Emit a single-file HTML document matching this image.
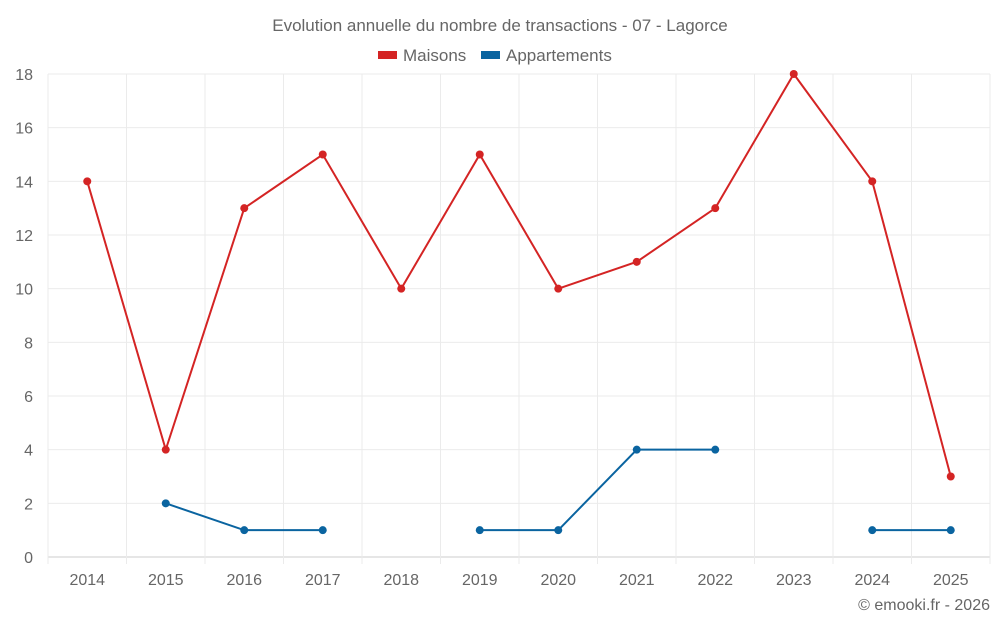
<!DOCTYPE html>
<html><head><meta charset="utf-8"><style>
body{margin:0;background:#fff;font-family:"Liberation Sans",sans-serif;}
svg text{font-family:"Liberation Sans",sans-serif;fill:#666;}
</style></head><body>
<svg id="c" width="1000" height="625">
<text x="500" y="31" text-anchor="middle" font-size="17">Evolution annuelle du nombre de transactions - 07 - Lagorce</text>
<g>
<g><rect x="378" y="51" width="19" height="8" fill="#d42424"/><text x="403" y="61" font-size="17">Maisons</text></g>
<g><rect x="481" y="51" width="19" height="8" fill="#0a64a0"/><text x="506" y="61" font-size="17">Appartements</text></g>
</g>
<g id="grid"></g><g id="axes"></g><g id="series"></g>
<text x="990" y="610" text-anchor="end" font-size="16">© emooki.fr - 2026</text>
</svg>
<script>
const categories=["2014","2015","2016","2017","2018","2019","2020","2021","2022","2023","2024","2025"];
const maisons=[14,4,13,15,10,15,10,11,13,18,14,3];
const appartements=[null,2,1,1,null,1,1,4,4,null,1,1];
const yTicks=[0,2,4,6,8,10,12,14,16,18];
const NS="http://www.w3.org/2000/svg";
const L=48,R=990,T=74,B=557,yMax=18;
const bw=(R-L)/categories.length;
const xs=i=>L+bw*(i+0.5);
const ys=v=>B-(v/yMax)*(B-T);
function mk(t,a,p){const e=document.createElementNS(NS,t);for(const k in a)e.setAttribute(k,a[k]);p.appendChild(e);return e;}
const g=document.getElementById('grid'),ax=document.getElementById('axes'),s=document.getElementById('series');
yTicks.forEach(v=>{
 const l=mk('line',{x1:L,x2:R,y1:ys(v),y2:ys(v),stroke:v===0?'#ccc':'#ebebeb'},g);
 
 
 const t=mk('text',{x:33,y:ys(v)+6,'text-anchor':'end','font-size':16},ax);t.textContent=v;
 
 
});
for(let i=0;i<=categories.length;i++){
 const x=L+bw*i;
 const l=mk('line',{x1:x,x2:x,y1:T,y2:B+7,stroke:'#ebebeb'},g);
 
 
}
categories.forEach((c,i)=>{
 const t=mk('text',{x:xs(i),y:585,'text-anchor':'middle','font-size':16},ax);t.textContent=c;
 
 
});
function draw(data,color,name){
 let d='',pen=false;
 data.forEach((v,i)=>{if(v==null){pen=false;return;}d+=(pen?'L':'M')+xs(i)+' '+ys(v)+' ';pen=true;});
 const p=mk('path',{d:d,fill:'none',stroke:color,'stroke-width':2},s);
 
 
 data.forEach((v,i)=>{if(v==null)return;
  const c=mk('circle',{cx:xs(i),cy:ys(v),r:4,fill:color},s);
  
  
 });
}
draw(maisons,'#d42424','maisons');
draw(appartements,'#0a64a0','appartements');
</script>
</body></html>
